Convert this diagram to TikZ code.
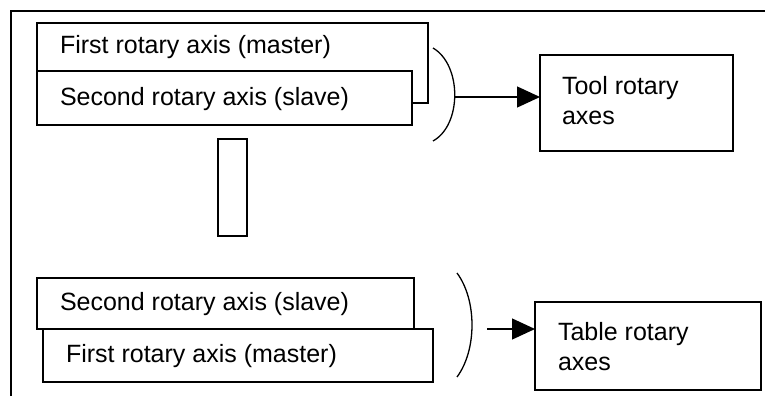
\documentclass[tikz,border=0pt]{standalone}
\usepackage{fontspec}
\setmainfont{Liberation Sans}
\usetikzlibrary{arrows.meta}
\begin{document}
\begin{tikzpicture}[x=1pt,y=-1pt,
  every node/.style={inner sep=0pt, outer sep=0pt},
  box/.style={draw, fill=white, line width=1.3pt, anchor=north west},
  lbl/.style={anchor=west, font=\fontsize{25}{30}\selectfont},
  multi/.style={anchor=west, align=left, font=\fontsize{25}{30}\selectfont},
  line/.style={line width=1.3pt},
  arr/.style={line width=1.3pt, -{Triangle[length=23pt,width=21pt]}}]
\useasboundingbox (0,0) rectangle (765,396);
% frame (only top and left visible)
\draw[line] (11,396) -- (11,11) -- (765,11);
% top group
\node[box, minimum width=391pt, minimum height=80pt] (m1) at (37,23) {};
\node[box, minimum width=375pt, minimum height=54pt] (s1) at (37,71) {};
\node[lbl] (m1t) at (60,47) {First rotary axis (master)};
\node[lbl] (s1t) at (60,99) {Second rotary axis (slave)};
\draw[line] (433,48) .. controls (462,65) and (462,125) .. (433,141);
\coordinate (b1) at (455,97);
\node[box, minimum width=193pt, minimum height=96pt] (tool) at (540,55) {};
\node[multi] (toolt) at (562,101) {Tool rotary\\axes};
\draw[arr] (b1) -- (b1 -| tool.west);
% small rectangle
\node[box, minimum width=29pt, minimum height=97pt] (sep) at (218,139) {};
% bottom group
\node[box, minimum width=390pt, minimum height=53pt] (m2) at (43,329) {};
\node[box, minimum width=377pt, minimum height=51pt] (s2) at (37,278) {};
\node[lbl] (s2t) at (60,304) {Second rotary axis (slave)};
\node[lbl] (m2t) at (66,356) {First rotary axis (master)};
\draw[line] (457,273) .. controls (477,300) and (477,350) .. (457,377);
\coordinate (b2) at (487,329);
\node[box, minimum width=226pt, minimum height=88pt] (table) at (535,302) {};
\node[multi] (tablet) at (558,347) {Table rotary\\axes};
\draw[arr] (b2) -- (b2 -| table.west);
\end{tikzpicture}
\end{document}
